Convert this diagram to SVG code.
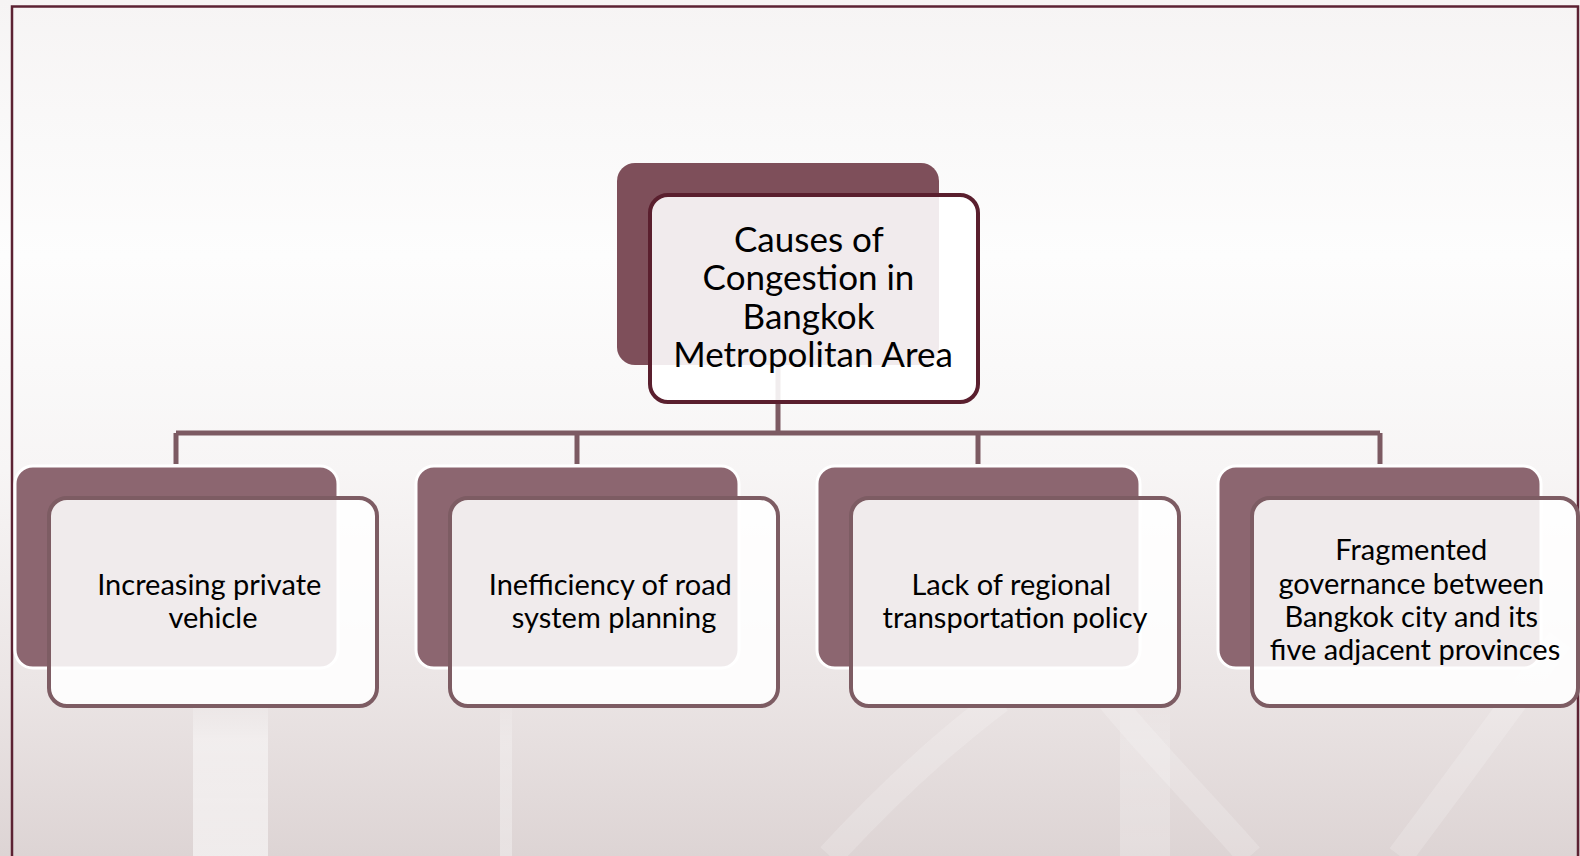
<svg xmlns="http://www.w3.org/2000/svg" width="1580" height="856" viewBox="0 0 1580 856">
  <defs>
    <linearGradient id="bgFade" x1="0" y1="0" x2="0" y2="1">
      <stop offset="0" stop-color="#f6f4f4"/>
      <stop offset="0.3" stop-color="#fdfdfd"/>
      <stop offset="0.55" stop-color="#f7f5f5"/>
      <stop offset="0.8" stop-color="#ebe5e5"/>
      <stop offset="1" stop-color="#ddd4d4"/>
    </linearGradient>
    <linearGradient id="bandFade" x1="0" y1="0" x2="0" y2="1">
      <stop offset="0" stop-color="#ffffff" stop-opacity="0"/>
      <stop offset="0.3" stop-color="#ffffff" stop-opacity="0.45"/>
      <stop offset="1" stop-color="#ffffff" stop-opacity="0.55"/>
    </linearGradient>
    <style>
      .frame { fill: none; stroke: #5c2233; stroke-width: 2.5; }
      .wire { fill: none; stroke: #7c5a62; stroke-width: 5; }
      .root-back { fill: #7e4f5a; }
      .root-front { fill: #ffffff; fill-opacity: 0.89; stroke: #5a1f2e; stroke-width: 4; }
      .leaf-back { fill: #8c6670; stroke: #ffffff; stroke-width: 3; }
      .leaf-front { fill: #ffffff; fill-opacity: 0.87; stroke: #7d5c63; stroke-width: 4; }
      .label { font-family: Lato, "Open Sans", sans-serif; fill: #000000; text-anchor: middle; }
      .root-label { font-size: 35px; }
      .leaf-label { font-size: 29px; }
      .swoosh { fill: none; stroke: #ffffff; stroke-opacity: 0.18; stroke-width: 26; }
    </style>
  </defs>

  <!-- backdrop -->
  <rect x="0" y="0" width="1580" height="856" fill="url(#bgFade)"/>
  <rect x="193" y="690" width="75" height="166" fill="url(#bandFade)"/>
  <rect x="500" y="690" width="12" height="166" fill="url(#bandFade)" opacity="0.6"/>
  <rect x="1120" y="690" width="50" height="166" fill="url(#bandFade)" opacity="0.4"/>
  <path class="swoosh" d="M830 856 C 900 780 960 730 1000 700"/>
  <path class="swoosh" d="M1110 700 C 1160 760 1210 810 1250 856"/>
  <path class="swoosh" d="M1560 640 C 1500 720 1450 790 1400 856"/>
  <rect class="frame" x="12" y="6.5" width="1566" height="860"/>

  <!-- connectors -->
  <g id="connectors">
    <path class="wire" d="M778 365 V433"/>
    <path class="wire" d="M176 433 H1380"/>
    <path class="wire" d="M176 433 V464"/>
    <path class="wire" d="M577 433 V464"/>
    <path class="wire" d="M978 433 V464"/>
    <path class="wire" d="M1380 433 V464"/>
  </g>

  <!-- root -->
  <g id="node-root">
    <rect class="root-back" x="617" y="163" width="322" height="202" rx="18"/>
    <rect class="root-front" x="650" y="195" width="328" height="207" rx="18"/>
    <text class="label root-label">
      <tspan x="813" y="252">Causes of</tspan>
      <tspan x="813" y="290">Congestion in</tspan>
      <tspan x="813" y="328.5">Bangkok</tspan>
      <tspan x="813" y="367">Metropolitan Area</tspan>
    </text>
  </g>

  <!-- causes -->
  <g id="node-private-vehicle">
    <rect class="leaf-back" x="15" y="466" width="323" height="202" rx="18"/>
    <rect class="leaf-front" x="49" y="498" width="328" height="208" rx="18"/>
    <text class="label leaf-label">
      <tspan x="213" y="595">Increasing private</tspan>
      <tspan x="213" y="628">vehicle</tspan>
    </text>
  </g>

  <g id="node-road-planning">
    <rect class="leaf-back" x="416" y="466" width="323" height="202" rx="18"/>
    <rect class="leaf-front" x="450" y="498" width="328" height="208" rx="18"/>
    <text class="label leaf-label">
      <tspan x="614" y="595">Inefficiency of road</tspan>
      <tspan x="614" y="628">system planning</tspan>
    </text>
  </g>

  <g id="node-regional-policy">
    <rect class="leaf-back" x="817" y="466" width="323" height="202" rx="18"/>
    <rect class="leaf-front" x="851" y="498" width="328" height="208" rx="18"/>
    <text class="label leaf-label">
      <tspan x="1015" y="595">Lack of regional</tspan>
      <tspan x="1015" y="628">transportation policy</tspan>
    </text>
  </g>

  <g id="node-governance">
    <rect class="leaf-back" x="1218" y="466" width="323" height="202" rx="18"/>
    <rect class="leaf-front" x="1252" y="498" width="326" height="208" rx="18"/>
    <text class="label leaf-label">
      <tspan x="1415" y="560">Fragmented</tspan>
      <tspan x="1415" y="593.5">governance between</tspan>
      <tspan x="1415" y="627">Bangkok city and its</tspan>
      <tspan x="1415" y="660">five adjacent provinces</tspan>
    </text>
  </g>
</svg>
